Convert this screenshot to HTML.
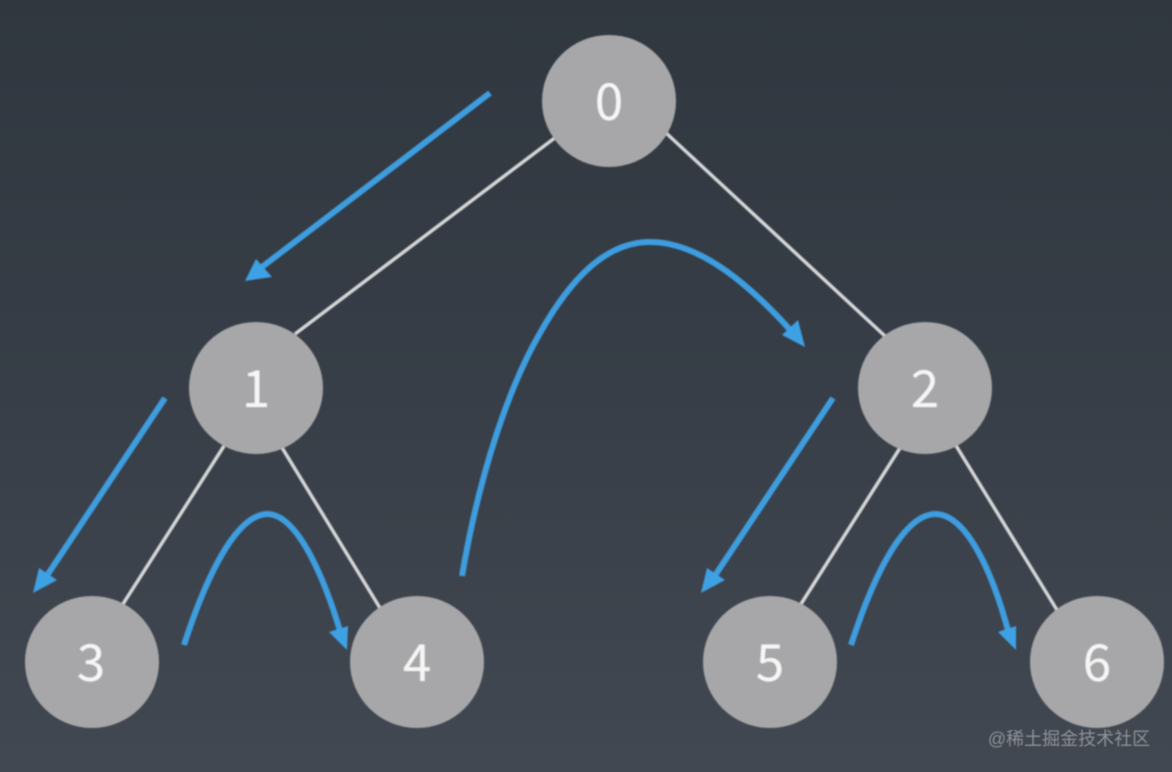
<!DOCTYPE html>
<html>
<head>
<meta charset="utf-8">
<style>
html,body{margin:0;padding:0;width:1172px;height:772px;overflow:hidden;background:#3a4149}
svg{display:block}
</style>
</head>
<body>
<svg width="1172" height="772" viewBox="0 0 1172 772" xmlns="http://www.w3.org/2000/svg">
<defs>
<linearGradient id="bg" x1="0" y1="0" x2="0" y2="1">
<stop offset="0" stop-color="#30373f"/>
<stop offset="0.5" stop-color="#373e47"/>
<stop offset="1" stop-color="#424851"/>
</linearGradient>
<filter id="soft" x="-5%" y="-5%" width="110%" height="110%">
<feGaussianBlur stdDeviation="0.8"/>
</filter>
<filter id="softer" x="-5%" y="-20%" width="110%" height="140%">
<feGaussianBlur stdDeviation="0.4"/>
</filter>
</defs>
<rect width="1172" height="772" fill="url(#bg)"/>
<g filter="url(#soft)">
<g stroke="#d4d5d7" stroke-width="3.5" fill="none">
<line x1="556" y1="137" x2="295" y2="334"/>
<line x1="665" y1="132" x2="886" y2="337"/>
<line x1="224" y1="446" x2="123" y2="604"/>
<line x1="281" y1="446" x2="380" y2="608"/>
<line x1="900" y1="448" x2="801" y2="604"/>
<line x1="955" y1="444" x2="1057" y2="610"/>
</g>
<g fill="#a7a7a9">
<ellipse cx="609" cy="101" rx="67" ry="66"/>
<ellipse cx="256" cy="388" rx="67" ry="66"/>
<ellipse cx="925" cy="388" rx="67" ry="66"/>
<ellipse cx="92" cy="662" rx="67" ry="66"/>
<ellipse cx="417" cy="662" rx="67" ry="66"/>
<ellipse cx="770" cy="662" rx="67" ry="66"/>
<ellipse cx="1097" cy="662" rx="67" ry="66"/>
</g>
<g fill="#f6f6f6" font-family="'Noto Sans CJK SC','Liberation Sans',sans-serif" font-size="51" text-anchor="middle">
<text x="609" y="120">0</text>
<text x="256" y="407">1</text>
<text x="925" y="407">2</text>
<text x="91" y="681">3</text>
<text x="417" y="681">4</text>
<text x="770" y="681">5</text>
<text x="1097" y="681">6</text>
</g>
<g stroke="#3c9ddf" stroke-width="6" fill="none">
<line x1="490" y1="93" x2="258" y2="270"/>
<line x1="165" y1="398" x2="44" y2="580"/>
<line x1="833" y1="398" x2="712" y2="580"/>
<path d="M184 645 C205 580 235 515 267 514 C298 514 325 580 341 634"/>
<path d="M851 645 C872 580 902 515 935 514 C966 514 992 570 1009 634"/>
<path d="M462 576 C480 470 510 385 540 333 C570 280 605 242 650 242 C700 242 750 285 793 333"/>
</g>
<g fill="#3ea1e4">
<polygon points="245,281 256,259 272,277"/>
<polygon points="33,593 39,568 57,580"/>
<polygon points="701,593 707,568 725,580"/>
<polygon points="347,650 329,632 348,626"/>
<polygon points="1016,650 998,632 1016,626"/>
<polygon points="805,347 782,335 798,320"/>
</g>
</g>
<text x="1069" y="745" text-anchor="middle" font-family="'Liberation Sans','Noto Sans CJK SC',sans-serif" font-size="18" fill="#8d9096" filter="url(#softer)">@稀土掘金技术社区</text>
</svg>
</body>
</html>
